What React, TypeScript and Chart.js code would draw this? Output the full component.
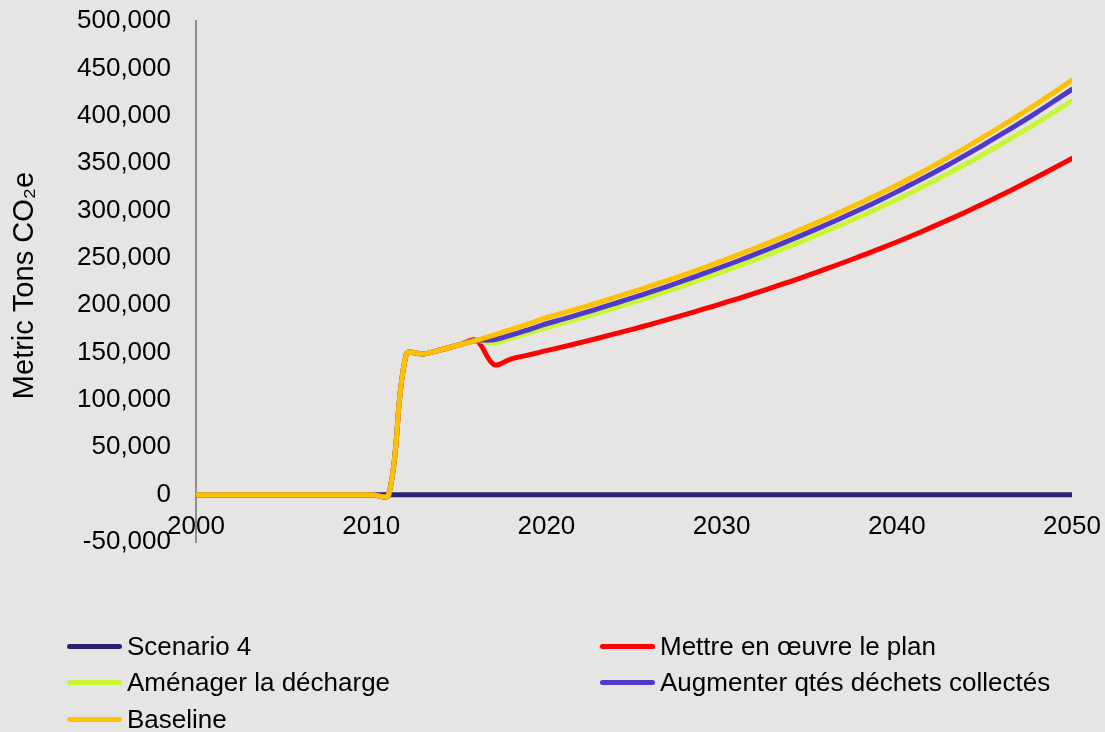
import React, { useEffect, useRef } from 'react';
import { Chart, registerables } from 'chart.js';

Chart.register(...registerables);

// ---------- data ----------
const YEARS = [
  2000, 2001, 2002, 2003, 2004, 2005, 2006, 2007, 2008, 2009,
  2010, 2011, 2012, 2013, 2014, 2015, 2016, 2017, 2018, 2019,
  2020, 2021, 2022, 2023, 2024, 2025, 2026, 2027, 2028, 2029,
  2030, 2031, 2032, 2033, 2034, 2035, 2036, 2037, 2038, 2039,
  2040, 2041, 2042, 2043, 2044, 2045, 2046, 2047, 2048, 2049,
  2050,
];

const SCENARIO_4 = [
  0, 0, 0, 0, 0, 0, 0, 0, 0, 0,
  0, 0, 0, 0, 0, 0, 0, 0, 0, 0,
  0, 0, 0, 0, 0, 0, 0, 0, 0, 0,
  0, 0, 0, 0, 0, 0, 0, 0, 0, 0,
  0, 0, 0, 0, 0, 0, 0, 0, 0, 0,
  0,
];

const METTRE_EN_OEUVRE = [
  0, 0, 0, 0, 0, 0, 0, 0, 0, 0,
  0, 0, 148000, 148500, 153000, 158000, 162800, 137400, 143400, 147500,
  152000, 156300, 160800, 165400, 170200, 175000, 180000, 185200, 190500, 196000,
  201600, 207300, 213200, 219300, 225500, 231900, 238500, 245300, 252300, 259400,
  266700, 274400, 282400, 290600, 299000, 307700, 316600, 325800, 335300, 345000,
  354900,
];

const AMENAGER = [
  0, 0, 0, 0, 0, 0, 0, 0, 0, 0,
  0, 0, 148000, 148500, 153000, 158000, 162800, 160000, 165200, 170600,
  176200, 181300, 186600, 192100, 197700, 203500, 209400, 215500, 221800, 228300,
  235000, 241700, 248600, 255800, 263100, 270600, 278400, 286300, 294500, 302900,
  311500, 320600, 330000, 339700, 349600, 359900, 370400, 381300, 392500, 404000,
  415800,
];

const AUGMENTER = [
  0, 0, 0, 0, 0, 0, 0, 0, 0, 0,
  0, 0, 148000, 148500, 153000, 158000, 162800, 163500, 168500, 174300,
  180400, 185600, 191000, 196600, 202300, 208200, 214200, 220500, 226900, 233500,
  240300, 247200, 254400, 261700, 269300, 277100, 285100, 293300, 301800, 310500,
  319600, 329100, 338800, 348800, 359200, 369800, 380800, 392000, 403600, 415600,
  427800,
];

const BASELINE = [
  0, 0, 0, 0, 0, 0, 0, 0, 0, 0,
  0, 0, 148000, 148500, 153000, 158000, 162800, 168500, 174500, 180500,
  186800, 192000, 197400, 203000, 208700, 214500, 220600, 226800, 233100, 239700,
  246600, 253600, 260800, 268200, 275900, 283700, 291800, 300100, 308700, 317500,
  326600, 336300, 346300, 356600, 367200, 378100, 389300, 400900, 412800, 425000,
  437600,
];

// legend order (row-major, two columns)
const SERIES_LABELS = [
  'Scenario 4',
  'Mettre en œuvre le plan',
  'Aménager la décharge',
  'Augmenter qtés déchets collectés',
  'Baseline',
];
const SERIES_COLORS = ['#2b2172', '#ff0000', '#c8f534', '#5038c8', '#ffc000'];
const SERIES_VALUES = [SCENARIO_4, METTRE_EN_OEUVRE, AMENAGER, AUGMENTER, BASELINE];
// drawing order: first drawn on top
const DRAW_ORDER = [4, 3, 2, 1, 0];

const Y_MIN = -50000;
const Y_MAX = 500000;
const Y_STEP = 50000;
const X_MIN = 2000;
const X_MAX = 2050;
const X_STEP = 10;
const Y_TITLE = 'Metric Tons CO₂e\u00A0';

const FONT = '"Liberation Sans", Arial, Helvetica, sans-serif';
const BG = '#e6e5e3';

export default function App() {
  const canvasRef = useRef<HTMLCanvasElement>(null);

  useEffect(() => {
    const canvas = canvasRef.current;
    if (!canvas) return;
    const datasets = DRAW_ORDER.map((i) => ({
      label: SERIES_LABELS[i],
      data: YEARS.map((x, k) => ({ x, y: SERIES_VALUES[i][k] })),
      borderColor: SERIES_COLORS[i],
      backgroundColor: SERIES_COLORS[i],
      borderWidth: 5,
      pointRadius: 0,
      fill: false,
      tension: 0.35,
      borderCapStyle: 'round' as const,
      borderJoinStyle: 'round' as const,
    }));

    const chart = new Chart(canvas, {
      type: 'line',
      data: { datasets },
      options: {
        animation: false,
        responsive: false,
        maintainAspectRatio: false,
        layout: { padding: { left: 0, top: 21, right: 33, bottom: 190 } },
        plugins: {
          legend: { display: false },
          tooltip: { enabled: false },
        },
        scales: {
          x: {
            type: 'linear',
            min: X_MIN,
            max: X_MAX,
            position: { y: 0 } as any,
            grid: { display: false, drawTicks: false },
            border: { display: false },
            ticks: {
              stepSize: X_STEP,
              padding: 17,
              color: '#000',
              font: { family: FONT, size: 26 },
              callback: (v: any) => String(v),
              maxRotation: 0,
            },
            afterFit: (scale: any) => {
              scale.paddingLeft = 0;
              scale.paddingRight = 0;
            },
          },
          y: {
            type: 'linear',
            min: Y_MIN,
            max: Y_MAX,
            grid: { display: false, drawTicks: false },
            border: { display: true, color: '#8e8e8e', width: 2 },
            ticks: {
              stepSize: Y_STEP,
              padding: 25,
              color: '#000',
              font: { family: FONT, size: 26 },
              callback: (v: any) => Number(v).toLocaleString('en-US'),
            },
            title: {
              display: true,
              text: Y_TITLE,
              color: '#000',
              font: { family: FONT, size: 29 },
              padding: { top: 8, bottom: 0 },
            },
            afterFit: (scale: any) => {
              scale.width = 196;
              scale.paddingTop = 0;
              scale.paddingBottom = 0;
            },
          },
        },
      },
    });
    return () => chart.destroy();
  }, []);

  return (
    <div style={{ position: 'fixed', left: 0, top: 0, width: 1105, height: 732, background: BG, overflow: 'hidden' }}>
      <canvas
        ref={canvasRef}
        width={1105}
        height={732}
        style={{ position: 'absolute', left: 0, top: 0, width: 1105, height: 732, display: 'block' }}
      />
      <div
        style={{
          position: 'absolute',
          left: 67,
          top: 628.5,
          display: 'grid',
          gridTemplateColumns: '533px auto',
          gridAutoRows: '36.3px',
          fontFamily: FONT,
          fontSize: 26,
          color: '#000',
        }}
      >
        {SERIES_LABELS.map((label, i) => (
          <div key={label} style={{ display: 'flex', alignItems: 'center', whiteSpace: 'nowrap' }}>
            <div
              style={{
                width: 55,
                height: 5,
                borderRadius: 2.5,
                background: SERIES_COLORS[i],
                marginRight: 5,
                flex: 'none',
              }}
            />
            <span>{label}</span>
          </div>
        ))}
      </div>
    </div>
  );
}
